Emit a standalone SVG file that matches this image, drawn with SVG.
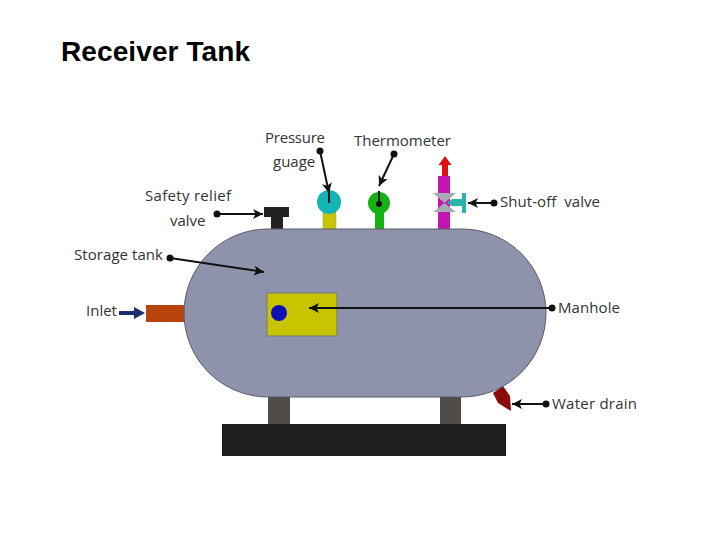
<svg xmlns="http://www.w3.org/2000/svg" width="720" height="540" viewBox="0 0 720 540">
<defs>
<marker id="ah" markerUnits="userSpaceOnUse" markerWidth="11" markerHeight="10" refX="10" refY="5" orient="auto"><path d="M0 0L10 5L0 10L2.500 5Z" fill="#111"/></marker>
</defs>
<style>
text{font-family:"Open Sans","Liberation Sans",sans-serif;font-size:15px;fill:#333;white-space:pre}
.l{stroke:#111;stroke-width:2;fill:none}
.d{fill:#111}
</style>
<rect width="720" height="540" fill="#fff"/>
<text x="61" y="60.500" style="font-family:'Liberation Sans',Arial,sans-serif;font-size:28px;font-weight:bold;fill:#000" textLength="189">Receiver Tank</text>
<g id="base"><rect x="222" y="424" width="284" height="32" fill="#1e1e1e"/></g>
<g id="legs"><rect x="268" y="396" width="22" height="28" fill="#4f4b46"/><rect x="440" y="396" width="21" height="28" fill="#4f4b46"/></g>
<g id="inlet"><rect x="146" y="305" width="40" height="17" fill="#b8430c"/><text x="86" y="316">Inlet</text></g>
<g id="drain"><path d="M493 393L503 386L510 396L511 411L498 403Z" fill="#8b0a0a"/><text x="552" y="409" textLength="85">Water drain</text></g>
<g id="relief"><path d="M264 207H289V217H283V230H271V217H264Z" fill="#222"/><text x="145" y="201" textLength="86">Safety relief</text><text x="170" y="226">valve</text></g>
<g id="gauge"><rect x="323" y="212" width="13" height="18" fill="#c8c400" stroke="#999" stroke-width=".5"/><circle cx="329" cy="202" r="12" fill="#14b4b4"/><text x="265" y="143" textLength="60">Pressure</text><text x="273" y="167">guage</text></g>
<g id="thermo"><rect x="375" y="208" width="9" height="22" fill="#12b312"/><circle cx="379" cy="203" r="11" fill="#12b312"/><text x="354" y="146" textLength="97">Thermometer</text></g>
<g id="valve">
<rect x="438" y="176" width="12" height="54" fill="#c414b0"/>
<path d="M445 156L451.500 165H448V176H442V165H438.500Z" fill="#e01010"/>
<path d="M433 193H456L444.500 203Z" fill="#a8aab8"/><path d="M433 212H456L444.500 203Z" fill="#a8aab8"/>
<path d="M447 203L452 199H462V193H466V213H462V206H452Z" fill="#2cb4ac"/>
<text x="500" y="207" textLength="100">Shut-off  valve</text></g>
<g id="tank"><rect x="184" y="229" width="362" height="168" rx="84" ry="84" fill="#8e92aa" stroke="#5a5c68"/><text x="74" y="260" textLength="89">Storage tank</text></g>
<g id="manhole"><rect x="267" y="293" width="70" height="43" fill="#c8c400" stroke="#777"/><circle cx="279" cy="313" r="8" fill="#1010b8"/><text x="558" y="313" textLength="62">Manhole</text></g>
<g id="connectors">
<circle class="d" cx="217" cy="214" r="3.500"/><path class="l" d="M217 214H263" marker-end="url(#ah)"/>
<circle class="d" cx="320" cy="151" r="3.500"/><path class="l" d="M320 151L329 193" marker-end="url(#ah)"/><path class="l" d="M329 190V203"/>
<circle class="d" cx="394" cy="154" r="3.500"/><path class="l" d="M394 154L379 186" marker-end="url(#ah)"/>
<circle class="d" cx="379" cy="204" r="3"/><path class="l" d="M379 191V204"/>
<circle class="d" cx="494" cy="203" r="3.500"/><path class="l" d="M494 203H468" marker-end="url(#ah)"/>
<circle class="d" cx="170" cy="258" r="3.500"/><path class="l" d="M170 258L264 272" marker-end="url(#ah)"/>
<circle class="d" cx="552" cy="308" r="3.500"/><path class="l" d="M552 308H309" marker-end="url(#ah)"/>
<circle class="d" cx="546" cy="404" r="3.500"/><path class="l" d="M546 404H512" marker-end="url(#ah)"/>
<path d="M119 311H134V307L145 313L134 319V315H119Z" fill="#1a2f70"/>
</g>
</svg>
